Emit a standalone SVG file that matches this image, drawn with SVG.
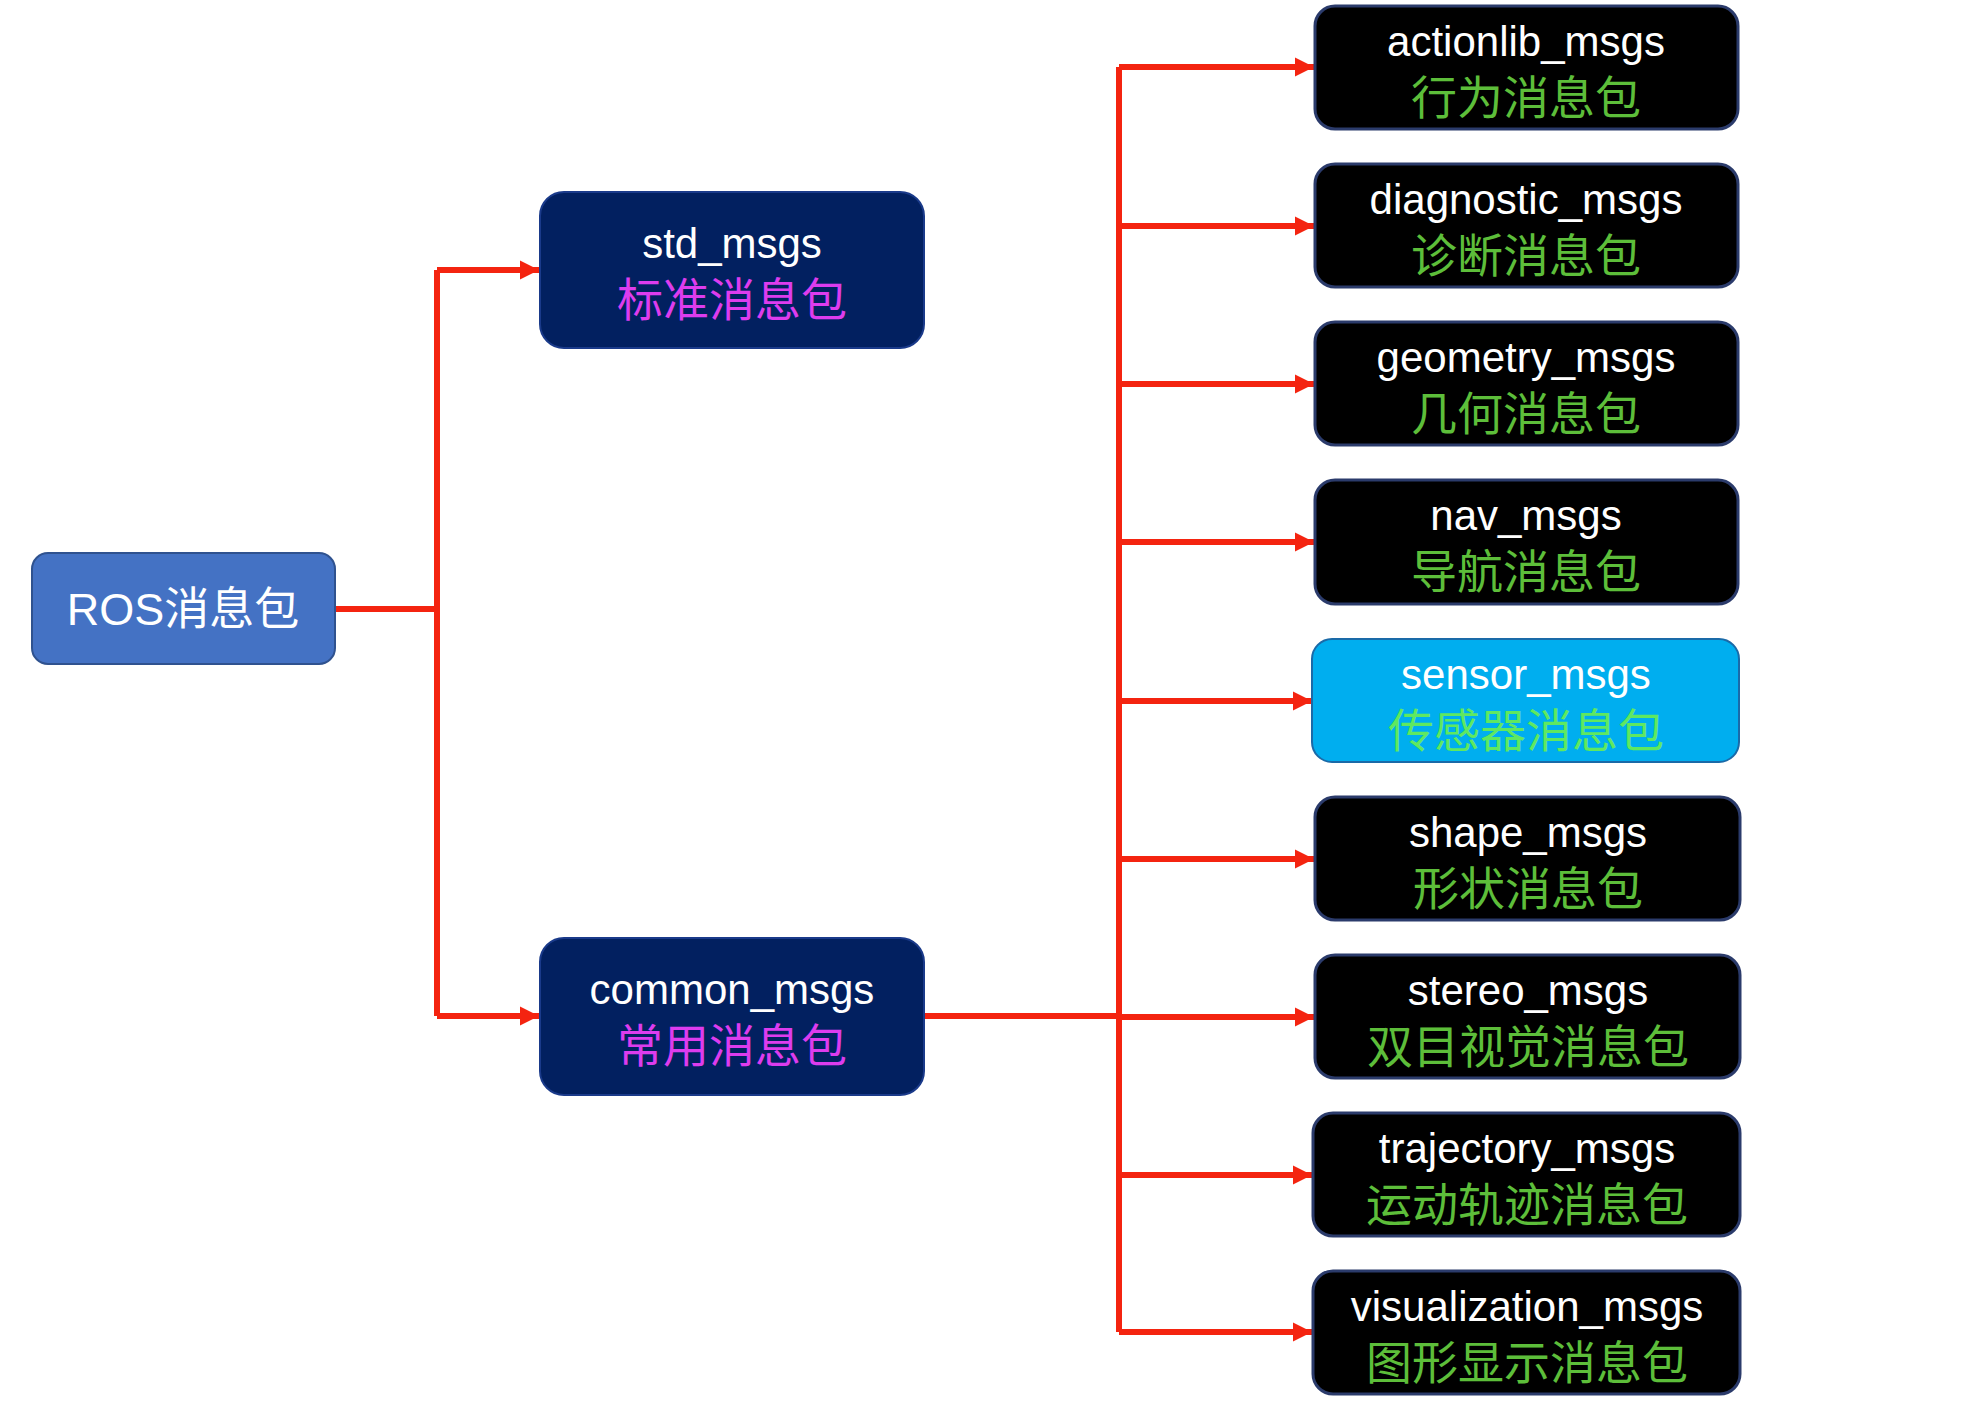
<svg xmlns="http://www.w3.org/2000/svg" width="1976" height="1407" viewBox="0 0 1976 1407">
<defs>
<marker id="arr" viewBox="0 0 10 10" refX="10" refY="5" markerWidth="3.2" markerHeight="3.4" markerUnits="strokeWidth" orient="auto">
<path d="M0,0 L10,5 L0,10 Z" fill="#F42410"/>
</marker>
<style>
text{font-family:"Liberation Sans","Noto Sans CJK SC",sans-serif;text-anchor:middle}
.en{font-size:42px;fill:#ffffff}
.zh{font-size:46px}
.mag{fill:#DD3CEE}
.grn{fill:#5DBE3A}
.sgrn{fill:#5FE860}
.root rect{fill:#4472C4;stroke:#2F528F;stroke-width:2}
.mid rect{fill:#022060;stroke:#1A3A8A;stroke-width:2}
.leaf rect{fill:#000000;stroke:#2B3B6B;stroke-width:3}
.sensor rect{fill:#00AEEF;stroke:#1A6AA8;stroke-width:2}
.conn{fill:none;stroke:#F42410;stroke-width:6}
</style>
</defs>
<rect width="1976" height="1407" fill="#ffffff"/>
<g id="connectors">
<path class="conn" d="M335,609 H437"/>
<path class="conn" d="M437,270 V1016"/>
<path class="conn" d="M437,270 H539" marker-end="url(#arr)"/>
<path class="conn" d="M437,1016 H539" marker-end="url(#arr)"/>
<path class="conn" d="M924,1016 H1119"/>
<path class="conn" d="M1119,67 V1332"/>
<path class="conn" d="M1119,67 H1314" marker-end="url(#arr)"/>
<path class="conn" d="M1119,226 H1314" marker-end="url(#arr)"/>
<path class="conn" d="M1119,384 H1314" marker-end="url(#arr)"/>
<path class="conn" d="M1119,542 H1314" marker-end="url(#arr)"/>
<path class="conn" d="M1119,701 H1312" marker-end="url(#arr)"/>
<path class="conn" d="M1119,859 H1314" marker-end="url(#arr)"/>
<path class="conn" d="M1119,1017 H1314" marker-end="url(#arr)"/>
<path class="conn" d="M1119,1175 H1312" marker-end="url(#arr)"/>
<path class="conn" d="M1119,1332 H1312" marker-end="url(#arr)"/>
</g>
<g id="ros" class="root">
<rect x="32" y="553" width="303" height="111" rx="16"/>
<text x="183" y="625" style="font-size:45px;fill:#ffffff">ROS消息包</text>
</g>
<g id="std_msgs" class="mid">
<rect x="540" y="192" width="384" height="156" rx="24"/>
<text class="en" x="732" y="258">std_msgs</text>
<text class="zh mag" x="732" y="316">标准消息包</text>
</g>
<g id="common_msgs" class="mid">
<rect x="540" y="938" width="384" height="157" rx="24"/>
<text class="en" x="732" y="1004">common_msgs</text>
<text class="zh mag" x="732" y="1062">常用消息包</text>
</g>
<g id="actionlib_msgs" class="leaf">
<rect x="1315" y="6" width="423" height="123" rx="20"/>
<text class="en" x="1526" y="56">actionlib_msgs</text>
<text class="zh grn" x="1526" y="114">行为消息包</text>
</g>
<g id="diagnostic_msgs" class="leaf">
<rect x="1315" y="164" width="423" height="123" rx="20"/>
<text class="en" x="1526" y="214">diagnostic_msgs</text>
<text class="zh grn" x="1526" y="272">诊断消息包</text>
</g>
<g id="geometry_msgs" class="leaf">
<rect x="1315" y="322" width="423" height="123" rx="20"/>
<text class="en" x="1526" y="372">geometry_msgs</text>
<text class="zh grn" x="1526" y="430">几何消息包</text>
</g>
<g id="nav_msgs" class="leaf">
<rect x="1315" y="480" width="423" height="124" rx="20"/>
<text class="en" x="1526" y="530">nav_msgs</text>
<text class="zh grn" x="1526" y="588">导航消息包</text>
</g>
<g id="sensor_msgs" class="sensor">
<rect x="1312" y="639" width="427" height="123" rx="20"/>
<text class="en" x="1526" y="689">sensor_msgs</text>
<text class="zh sgrn" x="1526" y="747">传感器消息包</text>
</g>
<g id="shape_msgs" class="leaf">
<rect x="1315" y="797" width="425" height="123" rx="20"/>
<text class="en" x="1528" y="847">shape_msgs</text>
<text class="zh grn" x="1528" y="905">形状消息包</text>
</g>
<g id="stereo_msgs" class="leaf">
<rect x="1315" y="955" width="425" height="123" rx="20"/>
<text class="en" x="1528" y="1005">stereo_msgs</text>
<text class="zh grn" x="1528" y="1063">双目视觉消息包</text>
</g>
<g id="trajectory_msgs" class="leaf">
<rect x="1313" y="1113" width="427" height="123" rx="20"/>
<text class="en" x="1527" y="1163">trajectory_msgs</text>
<text class="zh grn" x="1527" y="1221">运动轨迹消息包</text>
</g>
<g id="visualization_msgs" class="leaf">
<rect x="1313" y="1271" width="427" height="123" rx="20"/>
<text class="en" x="1527" y="1321">visualization_msgs</text>
<text class="zh grn" x="1527" y="1379">图形显示消息包</text>
</g>
</svg>
